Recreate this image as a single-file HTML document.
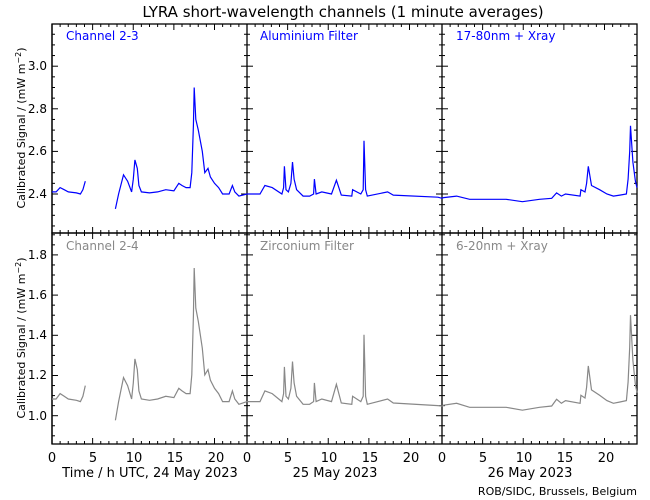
<!DOCTYPE html>
<html><head><meta charset="utf-8"><style>
body{margin:0;background:#fff}
svg{display:block;font-family:"DejaVu Sans","Liberation Sans",sans-serif}
</style></head><body>
<svg id="s" width="650" height="500" xmlns="http://www.w3.org/2000/svg">
<text x="343" y="17" font-size="15" text-anchor="middle">LYRA short-wavelength channels (1 minute averages)</text>
<text x="25" y="128" font-size="11" text-anchor="middle" transform="rotate(-90 25 128)">Calibrated Signal / (mW m<tspan dy="-4" font-size="8">−2</tspan><tspan dy="4">)</tspan></text>
<text x="25" y="338" font-size="11" text-anchor="middle" transform="rotate(-90 25 338)">Calibrated Signal / (mW m<tspan dy="-4" font-size="8">−2</tspan><tspan dy="4">)</tspan></text>
<g font-size="12" fill="#0000ff"><text x="66" y="40">Channel 2-3</text><text x="260" y="40">Aluminium Filter</text><text x="456" y="40">17-80nm + Xray</text></g>
<g font-size="12" fill="#888"><text x="66" y="250">Channel 2-4</text><text x="260" y="250">Zirconium Filter</text><text x="456" y="250">6-20nm + Xray</text></g>
<g font-size="12" text-anchor="end"><text x="47" y="198">2.4</text><text x="47" y="155">2.6</text><text x="47" y="113">2.8</text><text x="47" y="70">3.0</text>
<text x="47" y="420">1.0</text><text x="47" y="379">1.2</text><text x="47" y="339">1.4</text><text x="47" y="299">1.6</text><text x="47" y="259">1.8</text></g>
<g font-size="13" text-anchor="middle">
<text x="52" y="462">0</text><text x="93" y="462">5</text><text x="134" y="462">10</text><text x="175" y="462">15</text><text x="216" y="462">20</text>
<text x="247" y="462">0</text><text x="288" y="462">5</text><text x="329" y="462">10</text><text x="370" y="462">15</text><text x="411" y="462">20</text>
<text x="442" y="462">0</text><text x="483" y="462">5</text><text x="524" y="462">10</text><text x="565" y="462">15</text><text x="606" y="462">20</text>
<text x="150" y="477">Time / h UTC, 24 May 2023</text><text x="335" y="477">25 May 2023</text><text x="530" y="477">26 May 2023</text></g>
<text x="637" y="495" font-size="11" text-anchor="end">ROB/SIDC, Brussels, Belgium</text>
<g id="g"></g>
</svg>
<script>
var g=document.getElementById('g'),ns='http://www.w3.org/2000/svg',o='';
var X0=[52,247,442],W=195;
function tx(h){var d=Math.floor(h/24);if(d>2)d=2;return X0[d]+(h-d*24)*W/24;}
function ty(v,r){return r==0?194-(v-2.4)*213:415.7-(v-1.0)*201;}
// axes
for(var r=0;r<2;r++){var y0=r==0?24:233,y1=r==0?233:444;
 o+='<rect x="52" y="'+y0+'" width="585" height="'+(y1-y0)+'" fill="none" stroke="#000" stroke-width="1.3"/>';
 for(var c=0;c<3;c++){var x=X0[c];
  o+='<line x1="'+x+'" y1="'+y0+'" x2="'+x+'" y2="'+y1+'" stroke="#000" stroke-width="1.3"/>';
  for(var h=0;h<=24;h++){var L=h%5==0?6:3,xx=x+h*W/24;
   o+='<line x1="'+xx+'" y1="'+y1+'" x2="'+xx+'" y2="'+(y1-L)+'" stroke="#000"/><line x1="'+xx+'" y1="'+y0+'" x2="'+xx+'" y2="'+(y0+L)+'" stroke="#000"/>';}
 }
 var vs=r==0?[2.25,3.15]:[0.9,1.9];
 for(var v=vs[0];v<=vs[1]+1e-6;v+=0.05){var yy=ty(v,r);if(yy<y0+1||yy>y1-1)continue;var maj=Math.abs(v*5-Math.round(v*5))<1e-6,L=maj?6:3;
  [52,247,442,637].forEach(function(x){o+='<line x1="'+(x-(x==52?0:L))+'" y1="'+yy+'" x2="'+(x+(x==637?0:L))+'" y2="'+yy+'" stroke="#000"/>';});}
}
var segs=[
[[0,2.41],[0.5,2.41],[1,2.43],[1.5,2.42],[2,2.41],[3,2.405],[3.5,2.40],[3.8,2.42],[4.1,2.46]],
[[7.8,2.33],[8.2,2.40],[8.8,2.49],[9.3,2.46],[9.8,2.41],[10,2.47],[10.2,2.56],[10.5,2.52],[10.7,2.44],[11,2.41],[12,2.405],[13,2.41],[14,2.42],[15,2.415],[15.6,2.45],[16,2.44],[16.5,2.43],[17,2.43],[17.2,2.5],[17.4,2.72],[17.5,2.9],[17.7,2.75],[18,2.7],[18.5,2.6],[18.8,2.5],[19.2,2.52],[19.5,2.48],[20,2.45],[20.5,2.43],[21,2.4],[21.8,2.4],[22.2,2.44],[22.5,2.41],[23,2.39],[24,2.40],
[25.6,2.40],[26.2,2.44],[27.1,2.43],[28.3,2.40],[28.5,2.43],[28.6,2.53],[28.8,2.42],[29.1,2.41],[29.4,2.45],[29.6,2.55],[29.8,2.47],[30.1,2.42],[30.9,2.39],[31.7,2.39],[32.2,2.40],[32.3,2.47],[32.5,2.40],[33.2,2.41],[34.4,2.40],[35,2.465],[35.6,2.395],[36.9,2.39],[37,2.42],[38,2.40],[38.3,2.42],[38.4,2.65],[38.6,2.42],[38.8,2.39],[41.3,2.41],[42,2.395],[47.5,2.385],[48,2.38],
[48.2,2.383],[49.8,2.39],[51.4,2.375],[55.9,2.375],[57.9,2.364],[60,2.375],[61.5,2.38],[62.1,2.405],[62.7,2.39],[63.2,2.40],[65,2.39],[65.1,2.42],[65.6,2.41],[65.8,2.45],[66,2.53],[66.4,2.44],[67.4,2.42],[68.3,2.40],[69.1,2.39],[69.9,2.395],[70.7,2.40],[70.9,2.47],[71.1,2.6],[71.2,2.72],[71.5,2.55],[71.8,2.46],[72,2.43]]];
function tb(v,h){var d=h>=48?1:0;return 1.07+1.33*(v-2.40)+(d?0.005:0);}
for(var r=0;r<2;r++){segs.forEach(function(s){var p=s.map(function(q){var v=r==0?q[1]:tb(q[1],q[0]);return tx(q[0]>=72?71.999:q[0]).toFixed(1)+','+ty(v,r).toFixed(1);}).join(' ');
 o+='<polyline points="'+p+'" fill="none" stroke="'+(r==0?'#0000ff':'#888')+'" stroke-width="1.2"/>';});}
g.innerHTML=o;
</script>
</body></html>
